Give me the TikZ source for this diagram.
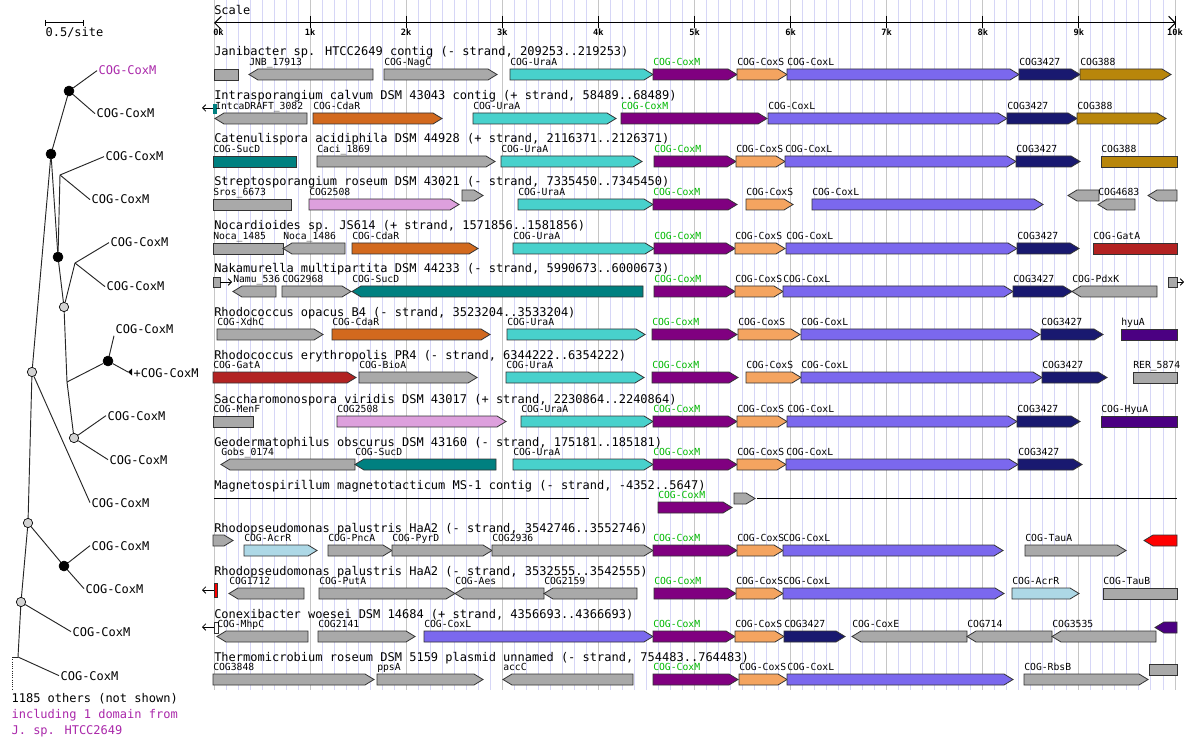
\documentclass[tikz,border=0pt]{standalone}
\usepackage{fontspec}
\setmainfont{DejaVu Sans Mono}
\usepackage{tikz}
\usetikzlibrary{arrows.meta}
\definecolor{geneGrey}{RGB}{169,169,169}
\definecolor{uraA}{RGB}{72,209,204}
\definecolor{coxM}{RGB}{128,0,128}
\definecolor{coxS}{RGB}{244,164,96}
\definecolor{coxL}{RGB}{123,104,238}
\definecolor{cogT}{RGB}{25,25,112}
\definecolor{cogE}{RGB}{184,134,11}
\definecolor{cdaR}{RGB}{210,105,30}
\definecolor{sucD}{RGB}{0,128,128}
\definecolor{cogP}{RGB}{221,160,221}
\definecolor{gatA}{RGB}{178,34,34}
\definecolor{hyuA}{RGB}{75,0,130}
\definecolor{acrR}{RGB}{173,216,230}
\definecolor{geneRed}{RGB}{255,0,0}
\definecolor{labGreen}{RGB}{0,185,0}
\definecolor{treePurple}{RGB}{170,40,170}
\definecolor{gridLight}{RGB}{214,214,246}
\definecolor{gridKb}{RGB}{198,198,198}
\definecolor{nodeGrey}{RGB}{211,211,211}

\begin{document}
\begin{tikzpicture}[
  x=0.75pt, y=-0.75pt,
  rowtitle/.style={anchor=base west, inner sep=0pt, font=\fontsize{9}{10}\selectfont},
  glabel/.style={anchor=base west, inner sep=0pt, font=\fontsize{7.3}{8}\selectfont},
  gene/.style={draw=black!80, line width=0.6pt},
  gridminor/.style={draw=gridLight, line width=0.75pt},
  gridmajor/.style={draw=gridKb, line width=0.75pt},
  scalelab/.style={anchor=base, inner sep=0pt, font=\fontsize{6.5}{7}\selectfont\bfseries},
  branch/.style={draw=black!85, line width=0.7pt},
  tblack/.style={circle, draw=black, fill=black, inner sep=0pt, minimum size=7.5pt},
  tgrey/.style={circle, draw=black, fill=nodeGrey, line width=0.5pt, inner sep=0pt, minimum size=7pt},
  leaf/.style={anchor=base west, inner sep=1pt, font=\fontsize{9}{10}\selectfont},
]
% picture is 1184 x 748 px, y runs downwards
\fill[white] (0,0) rectangle (1184,748);
\useasboundingbox (0,0) rectangle (1184,748);

\def\hd{9}     % arrow head length
\def\gh{11}    % gene height
\def\hh{5.5}   % half height
\def\cxm{\textcolor{labGreen}{COG-CoxM}}
\def\glab#1#2{\def\tmp{#2}\ifx\tmp\empty\else\node[glabel] (g\gy-#1) at (#1,\gy-3.5) {#2};\fi}
\def\geneR#1#2#3#4{%
  \filldraw[gene, fill=#3] (#1,\gy) -- (#2-\hd,\gy) -- (#2,\gy+\hh) -- (#2-\hd,\gy+\gh) -- (#1,\gy+\gh) -- cycle;
  \glab{#1}{#4}}
\def\geneL#1#2#3#4{%
  \filldraw[gene, fill=#3] (#1,\gy+\hh) -- (#1+\hd,\gy) -- (#2,\gy) -- (#2,\gy+\gh) -- (#1+\hd,\gy+\gh) -- cycle;
  \glab{#1}{#4}}
\def\geneB#1#2#3#4{%
  \filldraw[gene, fill=#3] (#1,\gy) rectangle (#2,\gy+\gh);
  \glab{#1}{#4}}

% background grid, 1/8 kb
\foreach \i in {0,...,80} {
  \draw[gridminor] (214+\i*12.0125,0) -- ++(0,690);
}
\foreach \k in {0,...,10} {
  \draw[gridmajor] (214+\k*96.1,0) -- ++(0,690);
}

% scale axis
\node[rowtitle] (scale) at (214,15) {Scale};
\draw[line width=0.75pt, {Straight Barb[length=5pt,width=10pt]}-{Straight Barb[length=5pt,width=10pt]}] (214,23) -- (1176,23);
\foreach \k in {1,...,10} {
  \draw[line width=0.75pt] (214+\k*96.1,16) -- ++(0,12);
  \node[scalelab] (k\k) at (214+\k*96.1,36) {\k k};
}
\node[scalelab, anchor=base west] (k0) at (213,36) {0k};

% Row 1
\def\gy{69}
\node[rowtitle] (t1) at (214,\gy-13) {Janibacter sp. HTCC2649 contig (- strand, 209253..219253)};
\geneB{214}{238}{geneGrey}{}
\geneL{249}{373}{geneGrey}{JNB\_17913}
\geneR{384}{497}{geneGrey}{COG-NagC}
\geneR{510}{653}{uraA}{COG-UraA}
\geneR{653}{737}{coxM}{\cxm}
\geneR{737}{787}{coxS}{COG-CoxS}
\geneR{787}{1019}{coxL}{COG-CoxL}
\geneR{1019}{1080}{cogT}{COG3427}
\geneR{1080}{1171}{cogE}{COG388}

% Row 2
\def\gy{113}
\node[rowtitle] (t2) at (214,\gy-13) {Intrasporangium calvum DSM 43043 contig (+ strand, 58489..68489)};
\draw[line width=0.6pt, -{Straight Barb[length=2.5pt,width=5pt]}] (214,108) -- (202,108);
\fill[sucD] (213,104) rectangle (217,114);
\geneL{215}{307}{geneGrey}{IntcaDRAFT\_3082}
\geneR{313}{442}{cdaR}{COG-CdaR}
\geneR{473}{616}{uraA}{COG-UraA}
\geneR{621}{767}{coxM}{\cxm}
\geneR{768}{1007}{coxL}{COG-CoxL}
\geneR{1007}{1077}{cogT}{COG3427}
\geneR{1077}{1166}{cogE}{COG388}

% Row 3
\def\gy{156}
\node[rowtitle] (t3) at (214,\gy-13) {Catenulispora acidiphila DSM 44928 (+ strand, 2116371..2126371)};
\geneB{213}{296}{sucD}{COG-SucD}
\geneR{317}{495}{geneGrey}{Caci\_1869}
\geneR{501}{642}{uraA}{COG-UraA}
\geneR{654}{736}{coxM}{\cxm}
\geneR{736}{785}{coxS}{COG-CoxS}
\geneR{785}{1016}{coxL}{COG-CoxL}
\geneR{1016}{1080}{cogT}{COG3427}
\geneB{1101}{1177}{cogE}{COG388}

% Row 4
\def\gy{199}
\node[rowtitle] (t4) at (214,\gy-13) {Streptosporangium roseum DSM 43021 (- strand, 7335450..7345450)};
\geneB{213}{291}{geneGrey}{Sros\_6673}
\geneR{309}{459}{cogP}{COG2508}
{\def\gy{190}\geneR{462}{483}{geneGrey}{}}
\geneR{518}{653}{uraA}{COG-UraA}
\geneR{653}{737}{coxM}{\cxm}
\geneR{746}{793}{coxS}{COG-CoxS}
\geneR{812}{1043}{coxL}{COG-CoxL}
{\def\gy{190}\geneL{1068}{1099}{geneGrey}{}}
\geneL{1098}{1135}{geneGrey}{COG4683}
{\def\gy{190}\geneL{1148}{1177}{geneGrey}{}}

% Row 5
\def\gy{243}
\node[rowtitle] (t5) at (214,\gy-13) {Nocardioides sp. JS614 (+ strand, 1571856..1581856)};
\geneB{213}{283}{geneGrey}{Noca\_1485}
\geneL{283}{345}{geneGrey}{Noca\_1486}
\geneR{352}{478}{cdaR}{COG-CdaR}
\geneR{513}{654}{uraA}{COG-UraA}
\geneR{654}{735}{coxM}{\cxm}
\geneR{735}{785}{coxS}{COG-CoxS}
\geneR{786}{1017}{coxL}{COG-CoxL}
\geneR{1017}{1079}{cogT}{COG3427}
\geneB{1093}{1177}{gatA}{COG-GatA}

% Row 6
\def\gy{286}
\node[rowtitle] (t6) at (214,\gy-13) {Nakamurella multipartita DSM 44233 (- strand, 5990673..6000673)};
\filldraw[gene, fill=geneGrey] (213,277) rectangle (220,287);
\draw[line width=0.6pt, -{Straight Barb[length=2.5pt,width=5pt]}] (220,282) -- (232,282);
\geneL{233}{276}{geneGrey}{Namu\_536}
\geneR{282}{351}{geneGrey}{COG2968}
\geneL{352}{643}{sucD}{COG-SucD}
\geneR{654}{735}{coxM}{\cxm}
\geneR{735}{783}{coxS}{COG-CoxS}
\geneR{783}{1013}{coxL}{COG-CoxL}
\geneR{1013}{1072}{cogT}{COG3427}
\geneL{1072}{1157}{geneGrey}{COG-PdxK}
\filldraw[gene, fill=geneGrey] (1168,277) rectangle (1177,287);
\draw[line width=0.6pt, -{Straight Barb[length=2.5pt,width=5pt]}] (1177,282) -- (1184,282);

% Row 7
\def\gy{329}
\node[rowtitle] (t7) at (214,\gy-13) {Rhodococcus opacus B4 (- strand, 3523204..3533204)};
\geneR{217}{323}{geneGrey}{COG-XdhC}
\geneR{332}{490}{cdaR}{COG-CdaR}
\geneR{507}{645}{uraA}{COG-UraA}
\geneR{652}{737}{coxM}{\cxm}
\geneR{738}{800}{coxS}{COG-CoxS}
\geneR{801}{1040}{coxL}{COG-CoxL}
\geneR{1041}{1103}{cogT}{COG3427}
\geneB{1121}{1177}{hyuA}{hyuA}

% Row 8
\def\gy{372}
\node[rowtitle] (t8) at (214,\gy-13) {Rhodococcus erythropolis PR4 (- strand, 6344222..6354222)};
\geneR{213}{356}{gatA}{COG-GatA}
\geneR{359}{477}{geneGrey}{COG-BioA}
\geneR{506}{644}{uraA}{COG-UraA}
\geneR{652}{738}{coxM}{\cxm}
\geneR{746}{801}{coxS}{COG-CoxS}
\geneR{801}{1042}{coxL}{COG-CoxL}
\geneR{1042}{1107}{cogT}{COG3427}
\geneB{1133}{1177}{geneGrey}{RER\_5874}

% Row 9
\def\gy{416}
\node[rowtitle] (t9) at (214,\gy-13) {Saccharomonospora viridis DSM 43017 (+ strand, 2230864..2240864)};
\geneB{213}{253}{geneGrey}{COG-MenF}
\geneR{337}{506}{cogP}{COG2508}
\geneR{521}{653}{uraA}{COG-UraA}
\geneR{653}{737}{coxM}{\cxm}
\geneR{737}{787}{coxS}{COG-CoxS}
\geneR{787}{1017}{coxL}{COG-CoxL}
\geneR{1017}{1080}{cogT}{COG3427}
\geneB{1101}{1177}{hyuA}{COG-HyuA}

% Row 10
\def\gy{459}
\node[rowtitle] (t10) at (214,\gy-13) {Geodermatophilus obscurus DSM 43160 (- strand, 175181..185181)};
\geneL{221}{355}{geneGrey}{Gobs\_0174}
\geneL{355}{496}{sucD}{COG-SucD}
\geneR{513}{653}{uraA}{COG-UraA}
\geneR{653}{737}{coxM}{\cxm}
\geneR{737}{786}{coxS}{COG-CoxS}
\geneR{786}{1018}{coxL}{COG-CoxL}
\geneR{1018}{1082}{cogT}{COG3427}

% Row 11
\def\gy{502}
\node[rowtitle] (t11) at (214,\gy-13) {Magnetospirillum magnetotacticum MS-1 contig (- strand, -4352..5647)};
\draw[line width=0.75pt] (214,498) -- (589,498);
\draw[line width=0.75pt] (757,498) -- (1177,498);
\geneR{658}{732}{coxM}{\cxm}
{\def\gy{493}\geneR{734}{755}{geneGrey}{}}

% Row 12
\def\gy{545}
\node[rowtitle] (t12) at (214,\gy-13) {Rhodopseudomonas palustris HaA2 (- strand, 3542746..3552746)};
{\def\gy{535}\geneR{213}{233}{geneGrey}{}}
\geneR{244}{317}{acrR}{COG-AcrR}
\geneR{328}{392}{geneGrey}{COG-PncA}
\geneR{392}{492}{geneGrey}{COG-PyrD}
\geneR{492}{653}{geneGrey}{COG2936}
\geneR{653}{737}{coxM}{\cxm}
\geneR{737}{783}{coxS}{COG-CoxS}
\geneR{783}{1003}{coxL}{COG-CoxL}
\geneR{1025}{1126}{geneGrey}{COG-TauA}
{\def\gy{535}\geneL{1144}{1177}{geneRed}{}}

% Row 13
\def\gy{588}
\node[rowtitle] (t13) at (214,\gy-13) {Rhodopseudomonas palustris HaA2 (- strand, 3532555..3542555)};
\draw[line width=0.6pt, -{Straight Barb[length=2.5pt,width=5pt]}] (214,590) -- (202,590);
\filldraw[gene, fill=geneRed] (214,583) rectangle (217,597);
\geneL{229}{304}{geneGrey}{COG1712}
\geneR{319}{455}{geneGrey}{COG-PutA}
\geneL{455}{544}{geneGrey}{COG-Aes}
\geneL{544}{637}{geneGrey}{COG2159}
\geneR{654}{736}{coxM}{\cxm}
\geneR{736}{783}{coxS}{COG-CoxS}
\geneR{783}{1004}{coxL}{COG-CoxL}
\geneR{1012}{1079}{acrR}{COG-AcrR}
\geneB{1103}{1177}{geneGrey}{COG-TauB}

% Row 14
\def\gy{631}
\node[rowtitle] (t14) at (214,\gy-13) {Conexibacter woesei DSM 14684 (+ strand, 4356693..4366693)};
\draw[line width=0.6pt, -{Straight Barb[length=2.5pt,width=5pt]}] (214,627) -- (202,627);
\filldraw[gene, fill=white] (214,622) rectangle (218,633);
\geneL{217}{308}{geneGrey}{COG-MhpC}
\geneR{318}{415}{geneGrey}{COG2141}
\geneR{424}{653}{coxL}{COG-CoxL}
\geneR{653}{735}{coxM}{\cxm}
\geneR{735}{784}{coxS}{COG-CoxS}
\geneR{784}{845}{cogT}{COG3427}
\geneL{852}{967}{geneGrey}{COG-CoxE}
\geneL{967}{1052}{geneGrey}{COG714}
\geneL{1052}{1156}{geneGrey}{COG3535}
{\def\gy{622}\geneL{1155}{1177}{hyuA}{}}

% Row 15
\def\gy{674}
\node[rowtitle] (t15) at (214,\gy-13) {Thermomicrobium roseum DSM 5159 plasmid unnamed (- strand, 754483..764483)};
\geneR{213}{374}{geneGrey}{COG3848}
\geneR{377}{483}{geneGrey}{ppsA}
\geneL{503}{633}{geneGrey}{accC}
\geneR{653}{738}{coxM}{\cxm}
\geneR{739}{787}{coxS}{COG-CoxS}
\geneR{787}{1013}{coxL}{COG-CoxL}
\geneR{1024}{1148}{geneGrey}{COG-RbsB}
{\def\gy{664}\geneB{1149}{1177}{geneGrey}{}}

% tree scale bar
\draw[line width=0.75pt] (45,23) -- (83,23);
\draw[line width=0.75pt] (45,20) -- (45,26);
\draw[line width=0.75pt] (83,20) -- (83,26);
\node[leaf] (site) at (44,37) {0.5/site};

% tree leaves
\node[leaf, text=treePurple] (l1) at (97,75) {COG-CoxM};
\node[leaf] (l2) at (95,118) {COG-CoxM};
\node[leaf] (l3) at (104,161) {COG-CoxM};
\node[leaf] (l4) at (90,204) {COG-CoxM};
\node[leaf] (l5) at (109,247) {COG-CoxM};
\node[leaf] (l6) at (105,291) {COG-CoxM};
\node[leaf] (l7) at (114,334) {COG-CoxM};
\node[leaf] (l8) at (132,377) {+COG-CoxM};
\node[leaf] (l9) at (106,420) {COG-CoxM};
\node[leaf] (l10) at (108,464) {COG-CoxM};
\node[leaf] (l11) at (90,507) {COG-CoxM};
\node[leaf] (l12) at (90,550) {COG-CoxM};
\node[leaf] (l13) at (84,593) {COG-CoxM};
\node[leaf] (l14) at (71,636) {COG-CoxM};
\node[leaf] (l15) at (59,680) {COG-CoxM};

% tree nodes
\node[tblack] (nA) at (69,91) {};
\node[tblack] (nB) at (51,154) {};
\coordinate (j1) at (60,175);
\node[tblack] (n6) at (58,257) {};
\coordinate (j3) at (75,263);
\node[tgrey] (n5) at (64,307) {};
\node[tgrey] (n4) at (32,372) {};
\coordinate (j2) at (67,382);
\node[tblack] (n8) at (108,361) {};
\coordinate (l8tip) at (128,372);
\node[tgrey] (n7) at (74,438) {};
\node[tgrey] (n2) at (28,523) {};
\node[tblack] (n3) at (64,566) {};
\node[tgrey] (n1) at (21,602) {};
\coordinate (j0) at (18,657);
\coordinate (r0) at (12,657);
\coordinate (r1) at (12,690);

% branches
\draw[branch] (nA) -- (l1.west);
\draw[branch] (nA) -- (l2.west);
\draw[branch] (nB) -- (nA);
\draw[branch] (nB) -- (n6);
\draw[branch] (n6) -- (j1);
\draw[branch] (j1) -- (l3.west);
\draw[branch] (j1) -- (l4.west);
\draw[branch] (n6) -- (n5);
\draw[branch] (n5) -- (j3);
\draw[branch] (j3) -- (l5.west);
\draw[branch] (j3) -- (l6.west);
\draw[branch] (n5) -- (j2);
\draw[branch] (j2) -- (n8);
\draw[branch] (n8) -- (l7.south west);
\draw[branch] (n8) -- (l8tip);
\fill (l8tip) -- ++(4,-3.5) -- ++(0,7) -- cycle;
\draw[branch] (j2) -- (n7);
\draw[branch] (n7) -- (l9.west);
\draw[branch] (n7) -- (l10.west);
\draw[branch] (nB) -- (n4);
\draw[branch] (n4) -- (l11.west);
\draw[branch] (n4) -- (n2);
\draw[branch] (n2) -- (n3);
\draw[branch] (n3) -- (l12.west);
\draw[branch] (n3) -- (l13.west);
\draw[branch] (n2) -- (n1);
\draw[branch] (n1) -- (l14.west);
\draw[branch] (n1) -- (j0);
\draw[branch] (j0) -- (l15.west);
\draw[branch] (r0) -- (j0);
\draw[branch, densely dotted] (r0) -- (r1);

% note under the tree
\node[leaf] (oth) at (10,702) {1185 others (not shown)};
\node[leaf, text=treePurple] (inc) at (10,718) {including 1 domain from};
\node[leaf, text=treePurple] (jsp) at (10,734) {J. sp. HTCC2649};

\end{tikzpicture}
\end{document}
